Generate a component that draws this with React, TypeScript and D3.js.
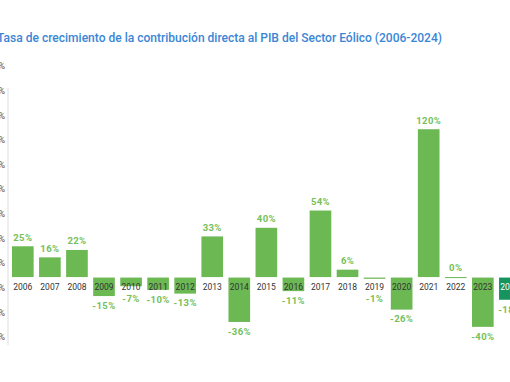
import React from "react";
import * as d3 from "d3";

const years = ["2006","2007","2008","2009","2010","2011","2012","2013","2014","2015","2016","2017","2018","2019","2020","2021","2022","2023","2024"];
const growth = [25, 16, 22, -15, -7, -10, -13, 33, -36, 40, -11, 54, 6, -1, -26, 120, 0, -40, -18];
const tickValues = [-40, -20, 0, 20, 40, 60, 80, 100, 120, 140, 160, 180];
const title = "Tasa de crecimiento de la contribución directa al PIB del Sector Eólico (2006-2024)";

const W = 510, H = 382;
const FONT = "Roboto, 'Open Sans', sans-serif";

export default function App() {
  const x = d3.scaleBand<string>().domain(years).range([9.3, 523.4]).paddingInner(0.2).paddingOuter(0.1);
  const y = d3.scaleLinear().domain([-60, 180]).range([351, 55.3]);
  const y0 = y(0);
  const light = "#6cb853";
  const dark = "#17935f";
  const labelGreen = "#74c059";

  return (
    <svg width={W} height={H} style={{ position: "absolute", left: 0, top: 0, background: "#fff" }} fontFamily={FONT}>
      <text x={-3} y={42} fontSize={13.5} fontWeight={500} fill="#3a86d6" textLength={445} lengthAdjust="spacingAndGlyphs">{title}</text>
      <line x1={8} x2={8} y1={88} y2={345} stroke="#dddddd" strokeWidth={1} />
      {tickValues.map((t) => (
        <text key={t} x={5} y={y(t) + 11} dy="0.35em" textAnchor="end" fontSize={8.5} fill="#555">{`${t}%`}</text>
      ))}
      {years.map((yr, i) => {
        const v = growth[i];
        const top = Math.min(y(v), y0);
        const h = Math.max(Math.abs(y(v) - y0), 1);
        const isLast = i === years.length - 1;
        const bx = x(yr)!;
        const cx = bx + x.bandwidth() / 2;
        const labelY = v >= 0 ? y(v) - 9 : Math.max(y(v), 289) + 10;
        return (
          <g key={yr}>
            <rect x={bx} y={v >= 0 ? top : y0 + 0.5} width={x.bandwidth()} height={h} fill={isLast ? dark : light} />
            <text x={cx} y={y0 + 10} dy="0.35em" textAnchor="middle" fontSize={8.5} fill={isLast ? "#ffffff" : "#333"}>{yr}</text>
            <text x={cx} y={labelY} dy="0.35em" textAnchor="middle" fontSize={9.5} fontWeight={700} letterSpacing={0.4} fill={labelGreen}>{`${v}%`}</text>
          </g>
        );
      })}
    </svg>
  );
}
